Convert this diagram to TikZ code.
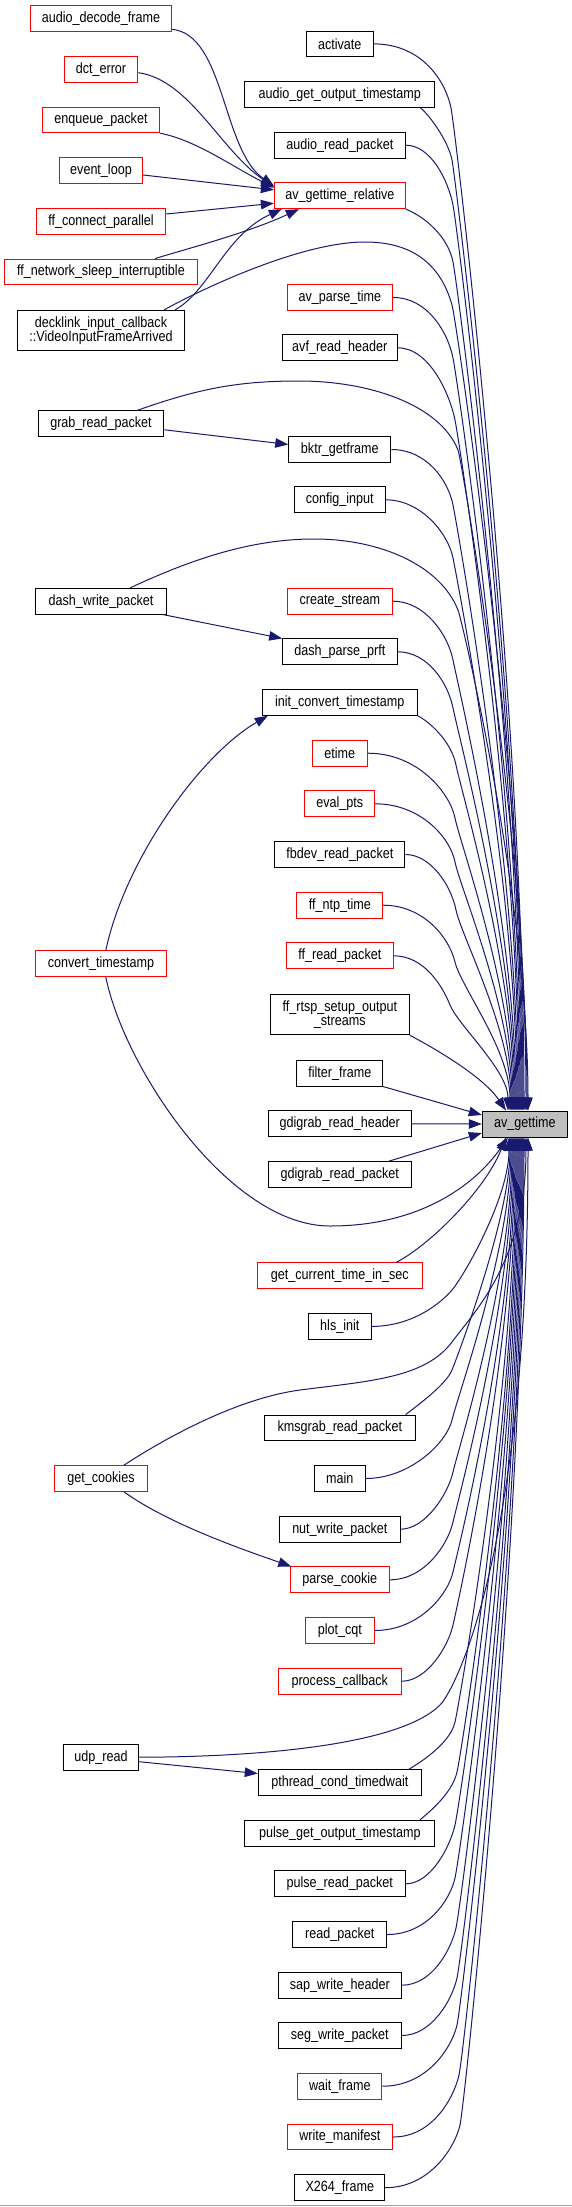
\documentclass[tikz,border=0pt]{standalone}
\usepackage{fontspec}
\setmainfont{Liberation Sans}
\newfontfamily\nodefont{Liberation Sans}[FakeStretch=0.85]
\usetikzlibrary{arrows.meta,calc}
\definecolor{edgeblue}{HTML}{191970}
\definecolor{boxgray}{HTML}{BFBFBF}
\definecolor{boxred}{HTML}{FF0000}
\definecolor{linegray}{HTML}{A0A0A0}
\newcommand\cto[6]{\draw[conn] (#1) .. controls ($(#1)+(#2)$) and ($(#4)-(#3)$) .. (#4) .. controls ($(#4)+(#3)$) and ($(#6)+(0,#5)$) .. (#6);}
\begin{document}
\begin{tikzpicture}[x=1pt,y=-1pt,
  fbox/.style={draw, fill=white, line width=1pt, inner sep=0pt, minimum height=25.7pt,
    font=\nodefont\fontsize{14.8}{14}\selectfont, align=center},
  rbox/.style={fbox, draw=boxred},
  kbox/.style={fbox, draw=black},
  conn/.style={draw=edgeblue, line width=1pt, -{Triangle[length=13pt,width=9.5pt]}}]
\fill[white] (0,0) rectangle (572,2207);
\useasboundingbox (0,0) rectangle (572,2207);
\draw[linegray, line width=1pt] (0,2205.6) -- (572,2205.6);
% column 1
\node[rbox, minimum width=141.5pt] (adf) at (101,18.3) {audio\_decode\_frame};
\node[rbox, minimum width=73.7pt] (dct) at (101,69.3) {dct\_error};
\node[rbox, minimum width=117.5pt] (enq) at (101,119.9) {enqueue\_packet};
\node[rbox, minimum width=83.1pt] (evl) at (101,170.5) {event\_loop};
\node[rbox, minimum width=129.5pt] (ffc) at (101,221.3) {ff\_connect\_parallel};
\node[rbox, minimum width=192.7pt] (ffn) at (101,271.9) {ff\_network\_sleep\_interruptible};
\node[kbox, minimum width=167.5pt, minimum height=40.4pt] (deck) at (101,330.5) {decklink\_input\_callback\\::VideoInputFrameArrived};
\node[kbox, minimum width=125.9pt] (grab) at (101,423.8) {grab\_read\_packet};
\node[kbox, minimum width=131.3pt] (dwrite) at (101,601.2) {dash\_write\_packet};
\node[rbox, minimum width=131.3pt] (conv) at (101,963.8) {convert\_timestamp};
\node[rbox, minimum width=92.7pt] (gck) at (101,1478.5) {get\_cookies};
\node[kbox, minimum width=75.1pt] (udp) at (101,1757.2) {udp\_read};
% column 2
\node[kbox, minimum width=66.4pt] (act) at (339.8,43.9) {activate};
\node[kbox, minimum width=190.1pt] (aget) at (339.8,94.5) {audio\_get\_output\_timestamp};
\node[kbox, minimum width=130.9pt] (aread) at (339.8,145.2) {audio\_read\_packet};
\node[rbox, minimum width=130.9pt] (avgr) at (339.8,195.8) {av\_gettime\_relative};
\node[rbox, minimum width=105.6pt] (apt) at (339.8,297.5) {av\_parse\_time};
\node[kbox, minimum width=114.9pt] (avf) at (339.8,347.8) {avf\_read\_header};
\node[kbox, minimum width=102.1pt] (bktr) at (339.8,449.5) {bktr\_getframe};
\node[kbox, minimum width=90.9pt] (cfg) at (339.8,499.8) {config\_input};
\node[rbox, minimum width=105.6pt] (cst) at (339.8,601.2) {create\_stream};
\node[kbox, minimum width=114.9pt] (dpp) at (339.8,651.8) {dash\_parse\_prft};
\node[kbox, minimum width=155.1pt] (icv) at (339.8,702.5) {init\_convert\_timestamp};
\node[rbox, minimum width=55.1pt] (etm) at (339.8,753.2) {etime};
\node[rbox, minimum width=69.7pt] (evp) at (339.8,803.8) {eval\_pts};
\node[kbox, minimum width=130.3pt] (fbd) at (339.8,854.5) {fbdev\_read\_packet};
\node[rbox, minimum width=85.7pt] (ntp) at (339.8,905.2) {ff\_ntp\_time};
\node[rbox, minimum width=106.9pt] (ffr) at (339.8,955.8) {ff\_read\_packet};
\node[kbox, minimum width=139pt, minimum height=40pt] (rtsp) at (339.8,1014.7) {ff\_rtsp\_setup\_output\\\_streams};
\node[kbox, minimum width=85.7pt] (flt) at (339.8,1073.2) {filter\_frame};
\node[kbox, minimum width=142.7pt] (gdh) at (339.8,1123.8) {gdigrab\_read\_header};
\node[kbox, minimum width=142.7pt] (gdp) at (339.8,1174.5) {gdigrab\_read\_packet};
\node[rbox, minimum width=164.9pt] (gct) at (339.8,1275.8) {get\_current\_time\_in\_sec};
\node[kbox, minimum width=62.8pt] (hls) at (339.8,1326.4) {hls\_init};
\node[kbox, minimum width=150.7pt] (kms) at (339.8,1428) {kmsgrab\_read\_packet};
\node[kbox, minimum width=50.7pt] (mn) at (339.8,1478.5) {main};
\node[kbox, minimum width=120.4pt] (nut) at (339.8,1529.2) {nut\_write\_packet};
\node[rbox, minimum width=99.2pt] (pck) at (339.8,1579.8) {parse\_cookie};
\node[rbox, minimum width=68.9pt] (pcq) at (339.8,1630.5) {plot\_cqt};
\node[rbox, minimum width=122.9pt] (pcb) at (339.8,1681.2) {process\_callback};
\node[kbox, minimum width=163.1pt] (pth) at (339.8,1782.5) {pthread\_cond\_timedwait};
\node[kbox, minimum width=190.1pt] (pget) at (339.8,1833.2) {pulse\_get\_output\_timestamp};
\node[kbox, minimum width=130.9pt] (prd) at (339.8,1883.8) {pulse\_read\_packet};
\node[kbox, minimum width=93.7pt] (rdp) at (339.8,1934.5) {read\_packet};
\node[kbox, minimum width=122.9pt] (sap) at (339.8,1985.2) {sap\_write\_header};
\node[kbox, minimum width=122.9pt] (seg) at (339.8,2035.5) {seg\_write\_packet};
\node[rbox, minimum width=84.3pt] (wfr) at (339.8,2086.2) {wait\_frame};
\node[rbox, minimum width=105.6pt] (wman) at (339.8,2137) {write\_manifest};
\node[kbox, minimum width=89.7pt] (x264) at (339.8,2187.7) {X264\_frame};
% target
\node[kbox, fill=boxgray, minimum width=85pt, minimum height=26pt] (avg) at (524.8,1124) {av\_gettime};
% target points
\foreach \n/\d in {1/-0.8,2/-1.8,3/-2.8,4/-3.8,5/-4.8,6/-5.8,7/-6.8,8/-7.8,9/-8.8,10/-9.8,11/-10.8,12/-11.8,13/-12.8,14/-13.8,15/-14.8,16/-16.8,17/-18.8,deck/1.2,grab/2.2,dw/3.2}
  \coordinate (u\n) at ($(avg.north)+(\d,0)$);
\foreach \n/\d in {1/-18.8,2/-16.8,3/-15.8,4/-14.8,5/-13.8,6/-12.8,7/-11.8,8/-10.8,9/-9.8,10/-8.8,11/-7.8,12/-6.8,13/-5.8,14/-4.8,15/-3.8,16/-2.8,17/-1.8,18/-0.8,19/1.2,20/3.2}
  \coordinate (d\n) at ($(avg.south)+(\d,0)$);
% start points
\coordinate (s-aget) at ($(aget.south east)+(-15,0)$);
\coordinate (s-deck) at ($(deck.north east)+(-21,0)$);
\coordinate (s-deck2) at ($(deck.north east)+(-10,0)$);
\coordinate (s-grab) at ($(grab.north east)+(-27.4,0)$);
\coordinate (s-grab2) at ($(grab.east)+(0,6)$);
\coordinate (s-dw) at ($(dwrite.north east)+(-37,0)$);
\coordinate (s-dw2) at ($(dwrite.south east)+(-4.4,0)$);
\coordinate (s-conv1) at ($(conv.north)+(4.8,0)$);
\coordinate (s-conv2) at ($(conv.south)+(4.8,0)$);
\coordinate (s-gct) at ($(gct.north east)+(-26.7,0)$);
\coordinate (s-kms) at ($(kms.north east)+(-10,0)$);
\coordinate (s-gck) at ($(gck.north)+(23,0)$);
\coordinate (s-gck2) at ($(gck.south)+(23,0)$);
\coordinate (s-pth) at ($(pth.north east)+(-12.8,0)$);
\coordinate (s-pget) at ($(pget.north east)+(-15.3,0)$);
\coordinate (s-udp2) at ($(udp.east)+(0,4.5)$);
\coordinate (s-gdp) at ($(gdp.north east)+(-22.7,0)$);
\coordinate (s-adf) at ($(adf.east)+(0,11)$);
\coordinate (s-dct) at ($(dct.east)+(0,3.4)$);
\coordinate (s-evl) at ($(evl.east)+(0,4.5)$);
\coordinate (s-ffc) at ($(ffc.east)+(0,-7.3)$);
\coordinate (s-ffn) at ($(ffn.north)+(54,0)$);
% end points on other nodes
\coordinate (r1) at ($(avgr.west)+(0,-10)$);
\coordinate (r2) at ($(avgr.west)+(0,-9)$);
\coordinate (r3) at ($(avgr.west)+(0,-8)$);
\coordinate (r4) at ($(avgr.west)+(0,-6)$);
\coordinate (r5) at ($(avgr.west)+(0,7.5)$);
\coordinate (r6) at ($(avgr.south west)+(25,0)$);
\coordinate (r7) at ($(avgr.south west)+(8,0)$);
\coordinate (t-bktr) at ($(bktr.west)+(0,-5)$);
\coordinate (t-dpp) at ($(dpp.north west)+(0.3,0)$);
\coordinate (t-icv) at ($(icv.south west)+(6,0)$);
\coordinate (t-flt) at ($(avg.west)+(0,-9)$);
\coordinate (t-gdp) at ($(avg.west)+(0,9)$);
\coordinate (t-pck) at ($(pck.north west)+(1.6,0)$);
\coordinate (t-pth) at ($(pth.west)+(0,-9)$);
% edges into av_gettime_relative
\draw[conn] (s-adf) .. controls (225,35) and (222,150) .. (r1);
\draw[conn] (s-dct) .. controls (190,80) and (220,150) .. (r2);
\draw[conn] (enq.south east) .. controls (195,140) and (230,165) .. (r3);
\draw[conn] (s-evl) -- (r4);
\draw[conn] (s-ffc) -- (r5);
\draw[conn] (s-ffn) .. controls (190,248) and (250,232) .. (r6);
\draw[conn] (s-deck2) .. controls (210,290) and (225,235) .. (r7);
% other short edges
\draw[conn] (s-grab2) -- (t-bktr);
\draw[conn] (s-dw2) -- (t-dpp);
\draw[conn] (s-conv1) .. controls (125,860) and (200,755) .. (t-icv);
\draw[conn] (s-gck2) .. controls (170,1525) and (250,1552) .. (t-pck);
\draw[conn] (s-udp2) -- (t-pth);
% upper edges into av_gettime
\cto{act.east}{50,0}{5,25}{451,108}{-400}{u1}
\cto{s-aget}{8,6}{4,20}{452,160}{-380}{u2}
\cto{aread.east}{25,0}{5,25}{453,205}{-360}{u3}
\cto{avgr.south east}{20,8}{5,25}{453,262}{-340}{u4}
\cto{apt.east}{35,0}{5,25}{453,358}{-300}{u5}
\cto{avf.east}{32,0}{5,25}{455,420}{-280}{u6}
\cto{bktr.east}{35,0}{5,25}{453,505}{-240}{u7}
\cto{cfg.east}{35,0}{5,25}{453,558}{-220}{u8}
\cto{cst.east}{32,0}{5,25}{453,660}{-180}{u9}
\cto{dpp.east}{30,0}{5,25}{453,708}{-160}{u10}
\cto{icv.south east}{10,5}{5,25}{456,765}{-140}{u11}
\cto{etm.east}{50,0}{5,25}{455,818}{-120}{u12}
\cto{evp.east}{45,0}{5,25}{455,862}{-100}{u13}
\cto{fbd.east}{25,0}{5,25}{456,910}{-80}{u14}
\cto{ntp.east}{40,0}{6,25}{455,962}{-60}{u15}
\cto{ffr.east}{30,0}{8,20}{450,1005}{-40}{u16}
\draw[conn] (rtsp.south east) .. controls (430,1046) and (482,1075) .. (u17);
\draw[conn] (s-deck) .. controls (200,290) and (300,242) .. (365,242) .. controls (410,242) and (440,262) .. (452,305) .. controls (457,323) and (526,800) .. (udeck);
\draw[conn] (s-grab) .. controls (200,388) and (240,381) .. (299,381) .. controls (370,381) and (440,405) .. (458,450) .. controls (462,460) and (527,850) .. (ugrab);
\draw[conn] (s-dw) .. controls (190,560) and (250,539) .. (314,539) .. controls (380,539) and (440,565) .. (458,610) .. controls (462,620) and (528,900) .. (udw);
% side edges
\draw[conn] (flt.south east) -- (t-flt);
\draw[conn] (gdh.east) -- (avg.west);
\draw[conn] (s-gdp) -- (t-gdp);
% lower edges into av_gettime
\draw[conn] (s-gct) .. controls (430,1245) and (485,1190) .. (d1);
\draw[conn] (s-conv2) .. controls (125,1070) and (230,1226) .. (330,1226) .. controls (420,1226) and (475,1185) .. (d2);
\cto{hls.east}{40,0}{12,-14}{452,1290}{60}{d3}
\cto{s-kms}{10,-8}{6,-15}{452,1370}{80}{d4}
\cto{mn.east}{45,0}{5,-22}{452,1420}{110}{d5}
\cto{nut.east}{25,0}{5,-22}{453,1472}{140}{d6}
\cto{pck.east}{35,0}{5,-22}{453,1522}{160}{d7}
\cto{pcq.east}{45,0}{5,-22}{453,1572}{190}{d8}
\cto{pcb.east}{25,0}{5,-22}{453,1625}{210}{d9}
\cto{s-pth}{10,-6}{5,-22}{455,1722}{240}{d10}
\cto{s-pget}{8,-7}{5,-22}{457,1772}{260}{d11}
\cto{prd.east}{25,0}{5,-22}{455,1825}{280}{d12}
\cto{rdp.east}{40,0}{5,-22}{455,1878}{300}{d13}
\cto{sap.east}{30,0}{5,-22}{456,1928}{320}{d14}
\cto{seg.east}{30,0}{5,-22}{457,1978}{340}{d15}
\cto{wfr.east}{45,0}{5,-22}{457,2025}{360}{d16}
\cto{wman.east}{40,0}{5,-22}{459,2075}{380}{d17}
\cto{x264.east}{45,0}{5,-22}{460,2125}{400}{d18}
\draw[conn] (s-gck) .. controls (170,1435) and (240,1398) .. (300,1390) .. controls (370,1381) and (425,1378) .. (452,1342) .. controls (475,1311) and (526,1260) .. (d19);
\draw[conn] (udp.east) .. controls (260,1757) and (400,1745) .. (440,1705) .. controls (455,1690) and (528,1550) .. (d20);
\end{tikzpicture}
\end{document}
